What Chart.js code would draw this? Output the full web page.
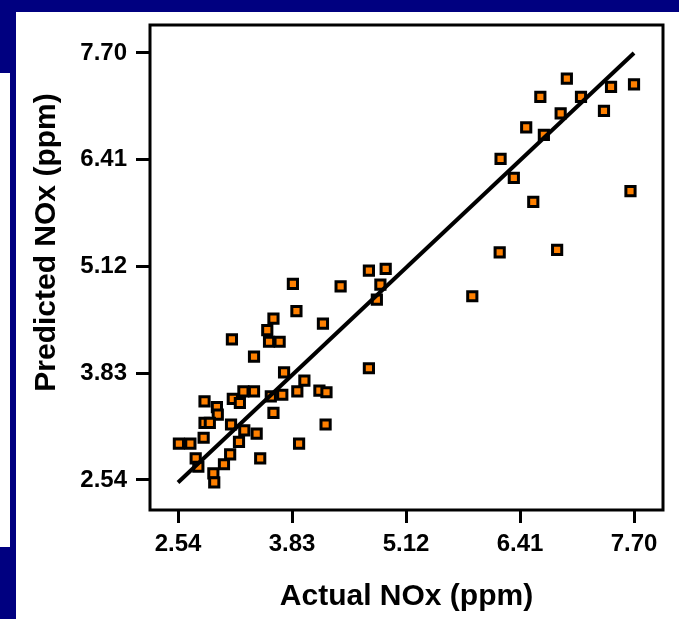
<!DOCTYPE html>
<html>
<head>
<meta charset="utf-8">
<script src="https://cdn.jsdelivr.net/npm/chart.js@4.4.1/dist/chart.umd.min.js"></script>
<style>
  body { margin: 0; background: #000080; width: 679px; height: 619px; overflow: hidden; position: relative; }
  #panel { position: absolute; left: 16px; top: 12px; right: 0; bottom: 0; background: #fff; }
  #strip { position: absolute; left: 0; top: 73px; width: 10px; height: 474px; background: #fff; }
  #graph { position: absolute; left: 0; top: 0; }
</style>
</head>
<body>
<div id="panel"></div>
<div id="strip"></div>
<canvas id="graph" width="679" height="619"></canvas>
<script>
var tickValues = [2.54, 3.83, 5.12, 6.41, 7.70];

var actualNOx = [
  6.94, 6.64, 7.10, 7.44, 7.70, 6.87, 7.36, 6.48, 6.68, 6.19, 6.34, 6.56, 7.66, 6.18, 6.83, 5.87,
  3.84, 4.38, 4.70, 4.89, 4.83, 4.79, 3.88, 4.18, 3.62, 3.55, 3.57, 3.69, 3.15, 3.40, 4.70, 3.74,
  3.97, 3.89, 4.14, 4.22, 3.28, 3.40, 3.16, 3.24, 3.59, 3.72, 2.84, 2.98, 2.99, 3.62, 2.84, 2.90,
  3.14, 3.29, 3.43, 4.21, 2.83, 2.55, 2.68, 3.23, 3.91, 3.13, 3.06, 2.74, 2.77, 3.47, 2.94, 2.95
];
var predictedNOx = [
  7.39, 7.17, 7.17, 7.29, 7.32, 6.97, 7.00, 6.80, 6.71, 6.42, 6.19, 5.90, 6.03, 5.29, 5.32, 4.76,
  4.91, 4.88, 5.07, 5.09, 4.90, 4.72, 4.58, 4.43, 4.49, 4.35, 4.21, 4.21, 4.24, 4.03, 3.89, 3.84,
  3.74, 3.61, 3.62, 3.60, 3.61, 3.61, 3.52, 3.47, 3.55, 3.57, 3.49, 3.42, 3.33, 3.35, 3.23, 3.23,
  3.21, 3.14, 3.10, 3.21, 3.05, 2.98, 2.98, 3.00, 2.98, 2.85, 2.73, 2.80, 2.70, 2.80, 2.62, 2.51
];

// fitted line end points
var fitX = [2.54, 7.70];
var fitY = [2.51, 7.70];

var points = actualNOx.map(function (v, i) { return {x: v, y: predictedNOx[i]}; });
var fit = fitX.map(function (v, i) { return {x: v, y: fitY[i]}; });

var font = "'Liberation Sans', Arial, Helvetica, sans-serif";

var frame = {
  id: "frame",
  afterDraw: function (chart) {
    var a = chart.chartArea, ctx = chart.ctx;
    ctx.save();
    ctx.strokeStyle = "#000";
    ctx.lineWidth = 3;
    ctx.strokeRect(a.left, a.top, a.right - a.left, a.bottom - a.top);
    ctx.restore();
  }
};

function setTicks(scale) {
  scale.ticks = tickValues.map(function (v) { return {value: v}; });
}

var graph = new Chart("graph", {
  type: "scatter",
  data: {
    datasets: [{
      type: "line",
      label: "fit",
      data: fit,
      borderColor: "#000",
      borderWidth: 4,
      pointRadius: 0,
      fill: false,
      order: 0
    }, {
      label: "NOx",
      data: points,
      pointStyle: "rect",
      pointRadius: 6.5,
      pointBorderWidth: 3,
      pointBorderColor: "#000",
      pointBackgroundColor: "#ff8000",
      order: 1
    }]
  },
  options: {
    responsive: false,
    animation: false,
    layout: { padding: { top: 25, right: 16, left: 0, bottom: 0 } },
    plugins: { legend: { display: false }, tooltip: { enabled: false } },
    scales: {
      x: {
        type: "linear",
        min: 2.223,
        max: 8.028,
        afterBuildTicks: setTicks,
        afterFit: function (s) { s.height = 109; },
        border: { display: false },
        grid: { drawOnChartArea: false, drawTicks: true, tickLength: 13, lineWidth: 3, color: "#000" },
        ticks: {
          padding: 7,
          color: "#000",
          font: { family: font, size: 24, weight: "bold" },
          maxRotation: 0,
          callback: function (v) { return Number(v).toFixed(2); }
        },
        title: {
          display: true,
          text: "Actual NOx (ppm)",
          color: "#000",
          font: { family: font, size: 30, weight: "bold", lineHeight: 1 },
          padding: { top: 0, bottom: 7 }
        }
      },
      y: {
        type: "linear",
        min: 2.177,
        max: 8.038,
        afterBuildTicks: setTicks,
        afterFit: function (s) { s.width = 150; },
        border: { display: false },
        grid: { drawOnChartArea: false, drawTicks: true, tickLength: 14, lineWidth: 3, color: "#000" },
        ticks: {
          padding: 9,
          color: "#000",
          font: { family: font, size: 24, weight: "bold" },
          callback: function (v) { return Number(v).toFixed(2); }
        },
        title: {
          display: true,
          text: "      Predicted NOx (ppm)",
          color: "#000",
          font: { family: font, size: 30, weight: "bold", lineHeight: 1 },
          padding: { top: 32, bottom: 0 }
        }
      }
    }
  },
  plugins: [frame]
});
</script>
</body>
</html>
